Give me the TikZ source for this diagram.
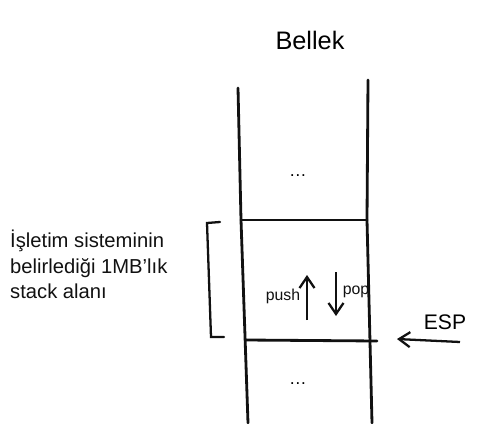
\documentclass[tikz,border=0pt]{standalone}
\usepackage{fontspec}
\setmainfont{Liberation Sans}
\usetikzlibrary{arrows.meta, positioning}
\definecolor{InkA}{HTML}{111111}
\tikzset{
  wall/.style={draw=InkA, line width=1.6pt, line cap=round},
  note/.style={align=left, font=\fontsize{11.5}{14.5}\selectfont, text=InkA},
  tag/.style={font=\small, text=InkA, inner sep=1pt},
  move/.style={-{Straight Barb[length=2.2mm, width=3mm]}, line width=1.3pt, draw=InkA},
}

\begin{document}
\begin{tikzpicture}[x=0.02cm, y=-0.02cm]
    \useasboundingbox (0,0) rectangle (480,423);
    % memory column
    \draw[wall] (238,88) -- (241,220) -- (248,423);
    \draw[wall] (368,80) -- (367,220) -- (372,423);
    \draw[wall] (241,220) -- (367,220);
    \draw[wall] (246,340) -- (377,341);
    \node[font=\Large] (title) at (310,40) {Bellek};
    \node (dotsA) at (298,176) {\dots};
    \node (dotsB) at (298,384) {\dots};
    % stack region
    \draw[wall, line width=1.3pt] (220,222) -- (207,223) -- (211,337) -- (224,337);
    \node[note, anchor=north west] (area) at (4,224) {İşletim sisteminin\\belirlediği 1MB'lık\\stack alanı};
    \node[tag] (push) at (283,296) {push};
    \node[tag] (pop) at (356,292) {pop};
    \coordinate (upA) at (307,320);
    \coordinate (upB) at (307,275);
    \coordinate (dnA) at (336,272);
    \coordinate (dnB) at (336,316);
    \draw[move] (upA) -- (upB);
    \draw[move] (dnA) -- (dnB);
    % stack pointer
    \node[font=\large] (esp) at (445,322) {ESP};
    \coordinate (espTail) at (460,342);
    \coordinate (espHead) at (397,339);
    \draw[move] (espTail) -- (espHead);
\end{tikzpicture}
\end{document}
